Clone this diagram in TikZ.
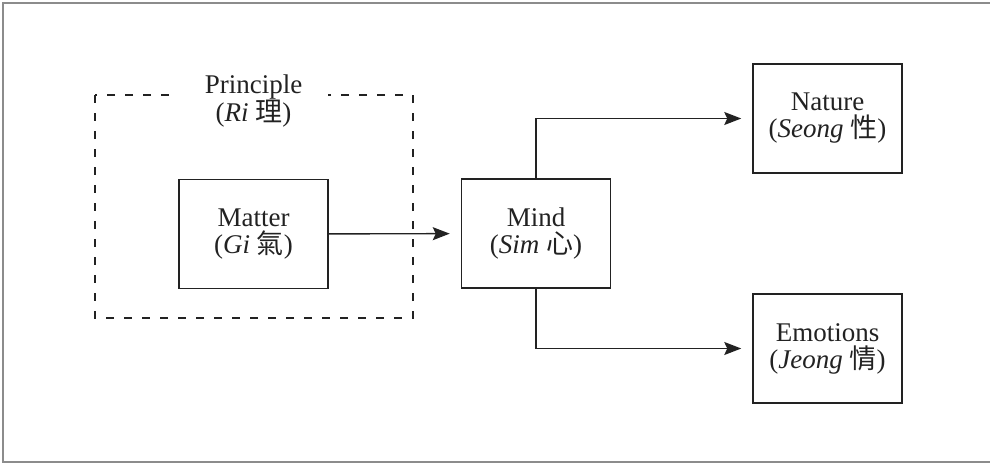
\documentclass[tikz,border=0pt]{standalone}
\usepackage{fontspec}
\setmainfont{Liberation Serif}
\newfontfamily\cjk{Noto Sans CJK TC}
\usetikzlibrary{arrows.meta}
\definecolor{ink}{HTML}{222222}
\begin{document}
\begin{tikzpicture}[x=1pt,y=-1pt,
  txt/.style={align=center, font=\fontsize{27}{27}\selectfont, text=ink, inner sep=0pt},
  box/.style={txt, draw=ink, line width=1.5pt, minimum width=149pt, minimum height=109pt},
  conn/.style={draw=ink, line width=1.4pt, -{Stealth[length=17pt,width=13pt,inset=3pt]}, shorten >=11pt},
  region/.style={draw=ink, line width=1.3pt, dash pattern=on 8pt off 10pt},
  frame/.style={draw=black!45, line width=2pt}]
\useasboundingbox (0,0) rectangle (990,464);
\draw[frame] (990,2.5) -- (2.5,2.5) -- (2.5,462) -- (990,462);
\draw[region] (95,95) rectangle (413,318);
\node[txt, fill=white, minimum width=149pt, inner ysep=2pt] (principle) at (253.5,101) {Principle\\(\textit{Ri} {\cjk 理})};
\node[box] (matter) at (253.5,234) {Matter\\(\textit{Gi} {\cjk 氣})};
\node[box] (mind) at (536,233.5) {Mind\\(\textit{Sim} {\cjk 心})};
\node[box] (nature) at (827.5,118.5) {Nature\\(\textit{Seong} {\cjk 性})};
\node[box] (emotions) at (827.5,348.5) {Emotions\\(\textit{Jeong} {\cjk 情})};
\draw[conn] (matter) -- (mind);
\draw[conn] (mind.north) |- (nature);
\draw[conn] (mind.south) |- (emotions);
\end{tikzpicture}
\end{document}
